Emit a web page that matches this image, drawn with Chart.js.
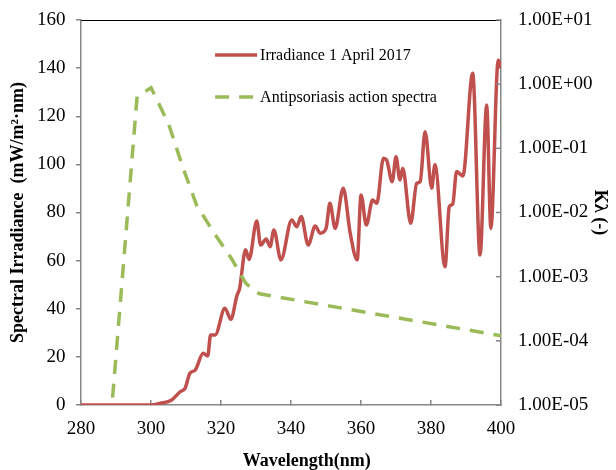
<!DOCTYPE html>
<html>
<head>
<meta charset="utf-8">
<script src="https://cdn.jsdelivr.net/npm/chart.js@4.4.0/dist/chart.umd.min.js"></script>
<style>
  html, body { margin: 0; padding: 0; background: #fff; }
  #wrap { width: 616px; height: 470px; }
</style>
</head>
<body>
<div id="wrap"><canvas id="grafico"></canvas></div>
<script>
// Irradiancia medida (mW/m2·nm)
const longitudIrr = [280, 300, 302.6, 305.9, 308.3, 309.7, 311.1, 312.6, 314.9, 316.2, 317.0, 318.3,
  321.1, 322.8, 324.5, 325.3, 327.0, 328.0, 330.2, 331.3, 332.9, 334.0, 335.1, 337.1, 340.2, 341.6,
  342.9, 344.9, 346.9, 348.3, 350.0, 351.1, 352.6, 354.9, 356.9, 358.9, 360.0, 361.5, 363.3, 364.5,
  366.4, 367.3, 368.9, 370.0, 371.1, 371.9, 374.2, 375.9, 376.9, 378.3, 380.2, 381.1, 384.0, 385.2,
  386.2, 387.3, 389.1, 391.9, 394.0, 395.9, 397.1, 399.2, 400];
const irradiancia = [0, 0, 0.7, 2.1, 5.5, 6.9, 13.2, 14.5, 21.5, 20.4, 29.1, 29.1,
  40.2, 35.6, 45.3, 48.5, 64.5, 60.5, 76.5, 66.5, 69.0, 65.8, 72.7, 60.3, 76.9, 74.1,
  78.3, 66.5, 74.4, 71.4, 73.4, 83.8, 73.4, 90.1, 71.4, 60.3, 87.3, 74.8, 85.2, 83.8,
  102.5, 101.8, 92.8, 103.2, 93.5, 98.4, 75.5, 92.1, 92.8, 113.6, 90.1, 99.8, 57.5, 82.4,
  83.5, 97.0, 95.2, 137.9, 62.3, 124.7, 73.4, 143.4, 140];

// Espectro de acción antipsoriasis (-)
const longitudAccion = [289, 296, 300, 305, 309, 313, 318, 323, 327, 329, 331, 400];
const espectroAccion = [1.3e-5, 0.64, 0.88, 0.24, 0.052, 0.013, 0.0048, 0.0019, 8e-4, 6.3e-4, 5.4e-4, 1.2e-4];

const ticksK = [1e1, 1e0, 1e-1, 1e-2, 1e-3, 1e-4, 1e-5];

const fuente = "'Liberation Serif', 'Times New Roman', serif";
const rojo = '#C0504D';
const verde = '#9BBB59';
const gris = '#868686';

Chart.defaults.font.family = fuente;
Chart.defaults.color = '#000';

function formatoExcel(v) {
  const [m, e] = v.toExponential(2).split('e');
  const n = parseInt(e, 10);
  return m + 'E' + (n < 0 ? '-' : '+') + String(Math.abs(n)).padStart(2, '0');
}

// Línea superior negra y marcas interiores del eje derecho
const bordes = {
  id: 'bordes',
  afterDraw(chart) {
    const { ctx, chartArea } = chart;
    const escala = chart.scales.y2;
    ctx.save();
    ctx.strokeStyle = '#000';
    ctx.lineWidth = 1;
    ctx.beginPath();
    ctx.moveTo(chartArea.left, chartArea.top + 0.5);
    ctx.lineTo(chartArea.right - 1, chartArea.top + 0.5);
    ctx.stroke();
    ctx.strokeStyle = gris;
    ctx.lineWidth = 1.5;
    escala.ticks.forEach(t => {
      const y = escala.getPixelForValue(t.value);
      ctx.beginPath();
      ctx.moveTo(chartArea.right - 5, y);
      ctx.lineTo(chartArea.right, y);
      ctx.stroke();
    });
    ctx.restore();
  }
};

// Leyenda dentro del área
const leyenda = {
  id: 'leyenda',
  afterDatasetsDraw(chart) {
    const { ctx, chartArea } = chart;
    const x0 = chartArea.left + 134;
    const items = [
      { texto: 'Irradiance 1 April 2017', color: rojo, dash: [], y: chartArea.top + 35 },
      { texto: 'Antipsoriasis action spectra', color: verde, dash: [14, 10], y: chartArea.top + 77 }
    ];
    ctx.save();
    items.forEach(it => {
      ctx.strokeStyle = it.color;
      ctx.lineWidth = 3.5;
      ctx.setLineDash(it.dash);
      ctx.beginPath();
      ctx.moveTo(x0, it.y);
      ctx.lineTo(x0 + 42, it.y);
      ctx.stroke();
      ctx.setLineDash([]);
      ctx.fillStyle = '#000';
      ctx.font = '16px ' + fuente;
      ctx.textBaseline = 'middle';
      ctx.fillText(it.texto, x0 + 45, it.y + 1);
    });
    ctx.restore();
  }
};

new Chart(document.getElementById('grafico'), {
  type: 'line',
  data: {
    datasets: [
      {
        label: 'Irradiance 1 April 2017',
        data: longitudIrr.map((x, i) => ({ x, y: irradiancia[i] })),
        borderColor: rojo,
        borderWidth: 3.5,
        pointRadius: 0,
        cubicInterpolationMode: 'monotone',
        yAxisID: 'y',
        order: 2
      },
      {
        label: 'Antipsoriasis action spectra',
        data: longitudAccion.map((x, i) => ({ x, y: espectroAccion[i] })),
        borderColor: verde,
        borderWidth: 3.5,
        borderDash: [14, 10],
        pointRadius: 0,
        tension: 0,
        yAxisID: 'y2',
        order: 1
      }
    ]
  },
  options: {
    responsive: true,
    maintainAspectRatio: false,
    animation: false,
    layout: { padding: { left: 4, right: 2, top: 0, bottom: 0 } },
    plugins: { legend: { display: false }, tooltip: { enabled: false } },
    scales: {
      x: {
        type: 'linear',
        min: 280,
        max: 400,
        ticks: { stepSize: 20, font: { size: 19, lineHeight: 1 }, padding: 19.5 },
        grid: { drawOnChartArea: false, tickLength: -5, color: gris, lineWidth: 1.5 },
        border: { color: gris, width: 1.5 },
        title: { display: true, text: '       Wavelength(nm)', font: { size: 18, weight: 'bold' }, padding: { top: -7.8, bottom: -1.8 } }
      },
      y: {
        position: 'left',
        min: 0,
        max: 160,
        ticks: { stepSize: 20, font: { size: 19, lineHeight: 1 }, padding: 10.5 },
        grid: { drawOnChartArea: false, tickLength: 5, color: gris, lineWidth: 1.5 },
        border: { color: gris, width: 1.5 },
        title: { display: true, text: 'Spectral Irradiance  (mW/m²·nm)', font: { size: 18, weight: 'bold' }, padding: { top: 3.7, bottom: -2.7 } }
      },
      y2: {
        type: 'logarithmic',
        position: 'right',
        min: 1e-5,
        max: 10,
        afterBuildTicks: (scale) => { scale.ticks = ticksK.map(v => ({ value: v })); },
        ticks: { font: { size: 19, lineHeight: 1 }, padding: 0, callback: (v) => formatoExcel(v) },
        grid: { drawOnChartArea: false, tickLength: 17, color: 'rgba(0,0,0,0)' },
        border: { color: gris, width: 1.5 },
        title: { display: true, text: 'Kλ (-)', font: { size: 18, weight: 'bold' }, padding: { top: 3.7, bottom: -3.9 } }
      }
    }
  },
  plugins: [bordes, leyenda]
});
</script>
</body>
</html>
